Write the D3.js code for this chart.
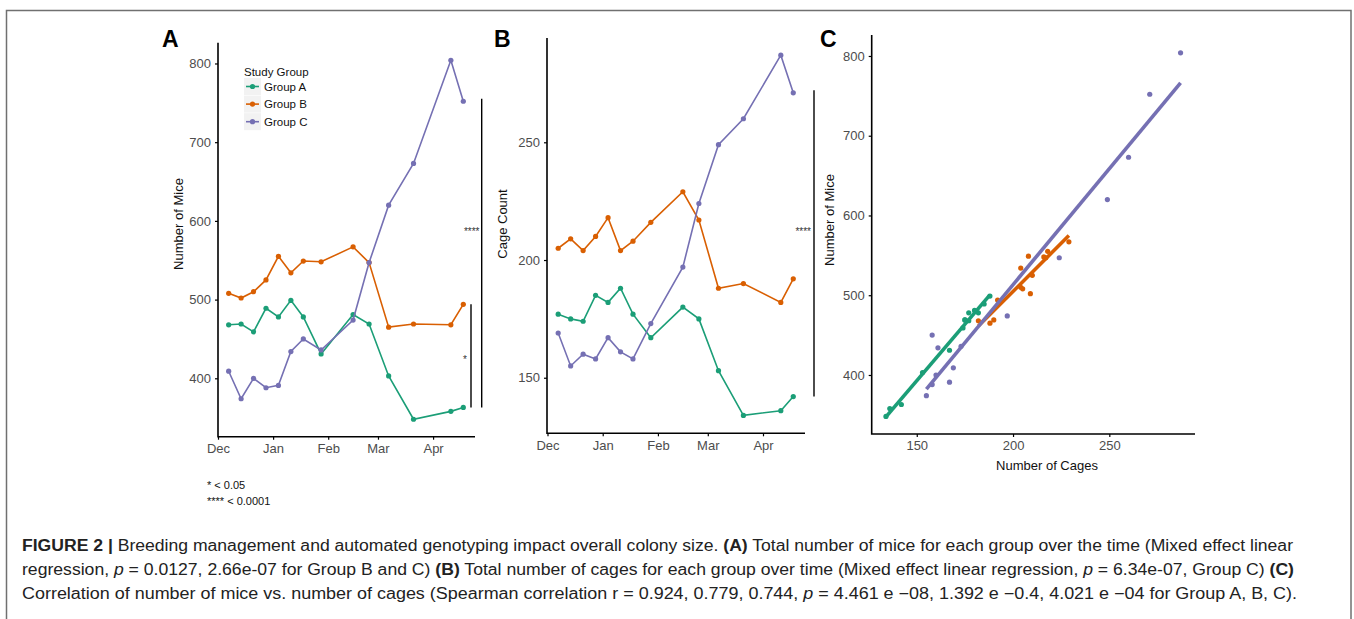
<!DOCTYPE html>
<html>
<head>
<meta charset="utf-8">
<script src="https://cdn.jsdelivr.net/npm/d3@7"></script>
<style>
  body { margin: 0; background: #fff; }
  svg { display: block; font-family: "Liberation Sans", Arial, sans-serif; }
</style>
</head>
<body>
<svg id="fig" width="1354" height="619"></svg>
<script>
// weekly sampling dates
var weekDates = ["2018-12-07", "2018-12-14", "2018-12-21", "2018-12-28", "2019-01-04", "2019-01-11", "2019-01-18",
  "2019-01-28", "2019-02-15", "2019-02-24", "2019-03-07", "2019-03-21", "2019-04-11", "2019-04-18"];
var groupNames = ["Group A", "Group B", "Group C"];
var groupColors = ["#1b9e77", "#d95f02", "#7570b3"];
// number of mice per group
var miceA = [468, 469, 459, 489, 478, 499, 478, 431, 481, 469, 403, 348, 358, 363];
var miceB = [508, 502, 510, 525, 555, 534, 549, 548, 567, 547, 465, 469, 468, 494];
var miceC = [409, 374, 400, 388, 391, 434, 450, 436, 474, 547, 620, 673, 804, 752];
// number of cages per group
var cagesA = [177, 175, 174, 185, 182, 188, 177, 167, 180, 175, 153, 134, 136, 142];
var cagesB = [205, 209, 204, 210, 218, 204, 208, 216, 229, 217, 188, 190, 182, 192];
var cagesC = [169, 155, 160, 158, 167, 161, 158, 173, 197, 224, 249, 260, 287, 271];
var miceTicks = [400, 500, 600, 700, 800];
var cageTicks = [150, 200, 250];
var monthLabels = ["Dec", "Jan", "Feb", "Mar", "Apr"];

var parse = d3.timeParse("%Y-%m-%d");
var dates = weekDates.map(parse);
var mice = [miceA, miceB, miceC];
var cages = [cagesA, cagesB, cagesC];

var svg = d3.select("#fig");
var tickColor = "#4d4d4d";

// figure frame
svg.append("rect").attr("x", 6.5).attr("y", 10.5).attr("width", 1344.5).attr("height", 700)
  .attr("fill", "none").attr("stroke", "#707070").attr("stroke-width", 1.5);

function panelLabel(t, x, y) {
  svg.append("text").attr("x", x).attr("y", y).text(t)
    .attr("font-size", "23px").attr("font-weight", "bold").attr("fill", "#000");
}

function drawAxes(g, x, y, xTicks, xFmt, yTicks, x0, x1, y0, y1) {
  var xa = g.append("g").attr("transform", "translate(0," + y0 + ")")
    .call(d3.axisBottom(x).tickValues(xTicks).tickFormat(xFmt).tickSize(3).tickPadding(4));
  var ya = g.append("g").attr("transform", "translate(" + x0 + ",0)")
    .call(d3.axisLeft(y).tickValues(yTicks).tickSize(3).tickPadding(4));
  [xa, ya].forEach(function (a) {
    a.select(".domain").remove();
    a.selectAll("line").attr("stroke", "#000").attr("stroke-width", 1.2);
    a.selectAll("text").attr("fill", tickColor).attr("font-size", "13px").attr("font-family", "Liberation Sans, Arial, sans-serif");
  });
  g.append("path").attr("d", "M" + x0 + "," + y1 + "V" + y0 + "H" + x1)
    .attr("fill", "none").attr("stroke", "#000").attr("stroke-width", 1.6);
}

function yTitle(t, x, y) {
  svg.append("text").attr("transform", "translate(" + x + "," + y + ") rotate(-90)")
    .attr("text-anchor", "middle").attr("font-size", "13px").attr("fill", "#111").text(t);
}

function drawLines(g, x, y, series) {
  series.forEach(function (vals, gi) {
    var pts = vals.map(function (v, i) { return [dates[i], v]; });
    g.append("path").datum(pts)
      .attr("fill", "none").attr("stroke", groupColors[gi]).attr("stroke-width", 1.6)
      .attr("d", d3.line().x(function (d) { return x(d[0]); }).y(function (d) { return y(d[1]); }));
    g.selectAll(".pt" + gi).data(pts).join("circle")
      .attr("class", "pt" + gi)
      .attr("cx", function (d) { return x(d[0]); }).attr("cy", function (d) { return y(d[1]); })
      .attr("r", 2.6).attr("fill", groupColors[gi]);
  });
}

var monthTicks = ["2018-12-01", "2019-01-01", "2019-02-01", "2019-03-01", "2019-04-01"].map(parse);
var monthFmt = function (d, i) { return monthLabels[i]; };
var timeDomain = [parse("2018-12-01"), new Date(2019, 3, 24, 14)];

// ---------------- Panel A ----------------
var gA = svg.append("g");
var xA = d3.scaleTime().domain(timeDomain).range([218, 475]);
var yA = d3.scaleLinear().domain([325.8, 826.4]).range([436.7, 42.7]);
drawAxes(gA, xA, yA, monthTicks, monthFmt, miceTicks, 218, 475, 436.7, 42.7);
drawLines(gA, xA, yA, mice);
panelLabel("A", 162, 47);
yTitle("Number of Mice", 183, 224);

// legend
var lg = svg.append("g");
lg.append("text").attr("x", 244).attr("y", 76).attr("font-size", "11.5px").attr("fill", "#111").text("Study Group");
groupNames.forEach(function (n, i) {
  var cy = 86.5 + i * 17.6;
  lg.append("rect").attr("x", 244).attr("y", cy - 8.5).attr("width", 17).attr("height", 17).attr("fill", "#f2f2f2");
  lg.append("line").attr("x1", 246).attr("x2", 259).attr("y1", cy).attr("y2", cy)
    .attr("stroke", groupColors[i]).attr("stroke-width", 1.6);
  lg.append("circle").attr("cx", 252.5).attr("cy", cy).attr("r", 2.6).attr("fill", groupColors[i]);
  lg.append("text").attr("x", 264).attr("y", cy + 4).attr("font-size", "11.5px").attr("fill", "#111").text(n);
});

// significance brackets A
var lastA = miceA.length - 1;
gA.append("line").attr("x1", 481.7).attr("x2", 481.7)
  .attr("y1", yA(miceC[lastA]) - 2.5).attr("y2", yA(miceA[lastA]))
  .attr("stroke", "#000").attr("stroke-width", 1.4);
gA.append("line").attr("x1", 471).attr("x2", 471)
  .attr("y1", yA(miceB[lastA])).attr("y2", yA(miceA[lastA]))
  .attr("stroke", "#000").attr("stroke-width", 1.4);
gA.append("text").attr("x", 479.5).attr("y", 235).attr("text-anchor", "end")
  .attr("font-size", "10px").attr("fill", "#333").text("****");
gA.append("text").attr("x", 465).attr("y", 363).attr("text-anchor", "middle")
  .attr("font-size", "10px").attr("fill", "#333").text("*");

// footnote
svg.append("text").attr("x", 207).attr("y", 489).attr("font-size", "11px").attr("fill", "#111").text("* < 0.05");
svg.append("text").attr("x", 207).attr("y", 505).attr("font-size", "11px").attr("fill", "#111").text("**** < 0.0001");

// ---------------- Panel B ----------------
var gB = svg.append("g");
var xB = d3.scaleTime().domain(timeDomain).range([547.5, 805]);
var yB = d3.scaleLinear().domain([126.4, 294.3]).range([433.3, 38]);
drawAxes(gB, xB, yB, monthTicks, monthFmt, cageTicks, 547, 805, 433.3, 38);
drawLines(gB, xB, yB, cages);
panelLabel("B", 494, 47);
yTitle("Cage Count", 507, 224);
gB.append("line").attr("x1", 814).attr("x2", 814)
  .attr("y1", yB(cagesC[lastA]) - 2.5).attr("y2", yB(cagesA[lastA]))
  .attr("stroke", "#000").attr("stroke-width", 1.4);
gB.append("text").attr("x", 811).attr("y", 235).attr("text-anchor", "end")
  .attr("font-size", "10px").attr("fill", "#333").text("****");

// ---------------- Panel C ----------------
var gC = svg.append("g");
var xC = d3.scaleLinear().domain([126.6, 294.5]).range([871.7, 1195]);
var yC = d3.scaleLinear().domain([326, 826.3]).range([434, 35]);
drawAxes(gC, xC, yC, cageTicks, d3.format("d"), miceTicks, 871.7, 1195, 434, 35);
panelLabel("C", 820, 47);
yTitle("Number of Mice", 834, 220);
svg.append("text").attr("x", 1047).attr("y", 470).attr("text-anchor", "middle")
  .attr("font-size", "13px").attr("fill", "#111").text("Number of Cages");

groupNames.forEach(function (n, gi) {
  var pts = cages[gi].map(function (c, i) { return [c, mice[gi][i]]; });
  // least-squares fit
  var mx = d3.mean(pts, function (d) { return d[0]; });
  var my = d3.mean(pts, function (d) { return d[1]; });
  var sxy = d3.sum(pts, function (d) { return (d[0] - mx) * (d[1] - my); });
  var sxx = d3.sum(pts, function (d) { return (d[0] - mx) * (d[0] - mx); });
  var b = sxy / sxx, a = my - b * mx;
  var ext = d3.extent(pts, function (d) { return d[0]; });
  gC.append("line")
    .attr("x1", xC(ext[0])).attr("y1", yC(a + b * ext[0]))
    .attr("x2", xC(ext[1])).attr("y2", yC(a + b * ext[1]))
    .attr("stroke", groupColors[gi]).attr("stroke-width", 3.6);
  gC.selectAll(".sp" + gi).data(pts).join("circle")
    .attr("class", "sp" + gi)
    .attr("cx", function (d) { return xC(d[0]); }).attr("cy", function (d) { return yC(d[1]); })
    .attr("r", 2.6).attr("fill", groupColors[gi]);
});

// ---------------- Caption ----------------
var captionLines = [
  [["FIGURE 2 |", "b"], [" Breeding management and automated genotyping impact overall colony size. ", ""], ["(A)", "b"],
   [" Total number of mice for each group over the time (Mixed effect linear", ""]],
  [["regression, ", ""], ["p", "i"], [" = 0.0127, 2.66e-07 for Group B and C) ", ""], ["(B)", "b"],
   [" Total number of cages for each group over time (Mixed effect linear regression, ", ""], ["p", "i"],
   [" = 6.34e-07, Group C) ", ""], ["(C)", "b"]],
  [["Correlation of number of mice vs. number of cages (Spearman correlation r = 0.924, 0.779, 0.744, ", ""], ["p", "i"],
   [" = 4.461 e \u221208, 1.392 e \u22120.4, 4.021 e \u221204 for Group A, B, C).", ""]]
];
var captionWidths = [1271, 1272, 1275];
captionLines.forEach(function (segs, li) {
  var t = svg.append("text").attr("x", 22).attr("y", 551 + li * 24)
    .attr("font-size", "16px").attr("fill", "#222")
    .attr("textLength", captionWidths[li]).attr("lengthAdjust", "spacingAndGlyphs");
  segs.forEach(function (s) {
    var ts = t.append("tspan").text(s[0]);
    if (s[1] === "b") ts.attr("font-weight", "bold");
    if (s[1] === "i") ts.attr("font-style", "italic");
  });
});
</script>
</body>
</html>
